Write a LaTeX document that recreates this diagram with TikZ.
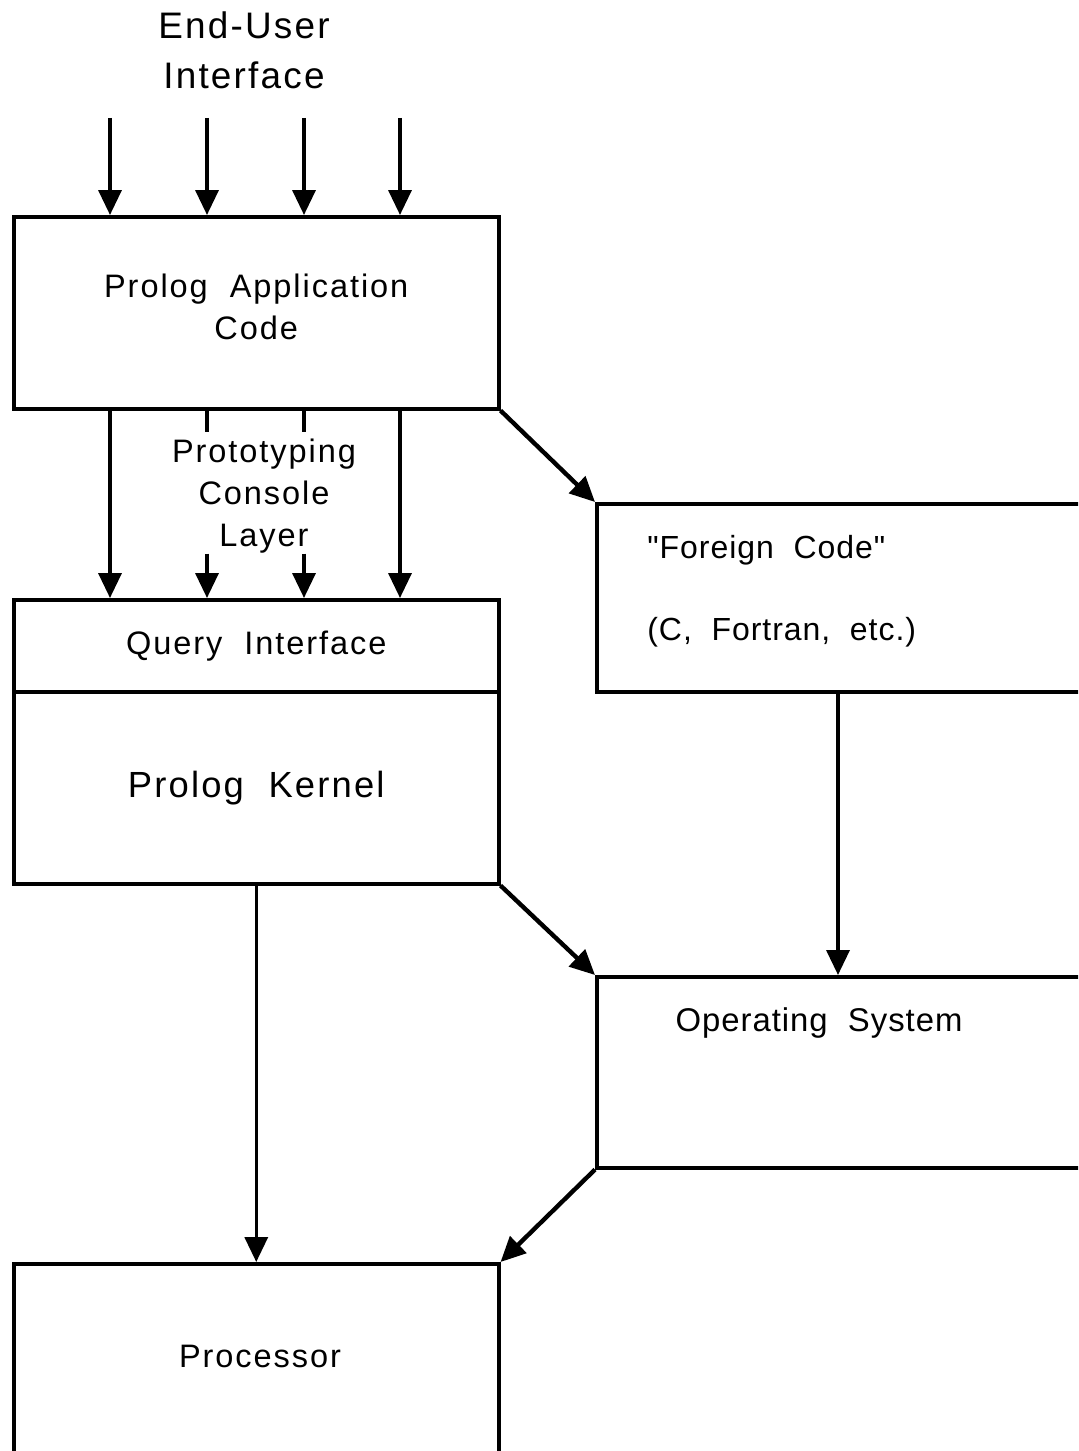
\documentclass[tikz,border=0pt]{standalone}
\usepackage{fontspec}
\usetikzlibrary{arrows.meta}
\newfontfamily\boxfont[LetterSpace=6]{Liberation Sans}
\newfontfamily\tightfont[LetterSpace=3]{Liberation Sans}

\tikzset{
	box/.style={draw, line width=2pt, rectangle, inner sep=0pt, anchor=north west, minimum width=9.7cm},
	arr/.style={line width=2pt, -{Triangle[length=5mm,width=4.6mm]}},
	lbl/.style={font=\boxfont\fontsize{18.5}{23.9}\selectfont, align=center},
	olbl/.style={font=\tightfont\fontsize{18.7}{24}\selectfont}
}

\begin{document}
\begin{tikzpicture}[x=0.2mm, y=-0.2mm]
		\useasboundingbox (0,0) rectangle (1078,1451);
		\clip (0,0) rectangle (1078,1451);

		\node[lbl, font=\boxfont\fontsize{21}{28.5}\selectfont] (eui) at (244,50) {End-User\\Interface};
		\coordinate (in1) at (110,118);
		\coordinate (in2) at (207,118);
		\coordinate (in3) at (304,118);
		\coordinate (in4) at (400,118);

		\node[box, lbl, minimum height=3.84cm] (app) at (12,215) {Prolog~ Application\\Code\\[-6.1mm]};
		\node[box, lbl, minimum height=1.84cm] (qi) at (12,598) {Query~ Interface};
		\node[box, lbl, minimum height=3.84cm, font=\boxfont\fontsize{20.7}{24}\selectfont] (pk) at (12,690) {Prolog~ Kernel};
		\node[box, minimum width=12cm, minimum height=3.76cm] (fc) at (595,502) {};
		\node[box, minimum width=12cm, minimum height=3.82cm] (os) at (595,975) {};
		\node[box, minimum height=6cm] (cpu) at (12,1262) {};

		% texts of the boxes that run off the page
		\node[lbl] (pcl) at (264,496) {Prototyping\\Console\\Layer};
		\node[olbl, anchor=west, align=left, inner sep=0pt, font=\tightfont\fontsize{18.2}{46.5}\selectfont] (fcl) at (647,591) {"Foreign~ Code"\\(C,~ Fortran,~ etc.)};
		\node[olbl] (osl) at (819,1023) {Operating~ System};
		\node[lbl] (cpul) at (260,1356) {Processor};

		\foreach \i in {1,...,4}
			\draw[arr] (in\i) -- (in\i |- app.north);

		\draw[arr] (in1 |- app.south) -- (in1 |- qi.north);
		\draw[arr] (in4 |- app.south) -- (in4 |- qi.north);
		\draw[line width=2pt] (in2 |- app.south) -- ++(0,21);
		\draw[line width=2pt] (in3 |- app.south) -- ++(0,21);
		\draw[arr] ([yshift=-2.86cm]in2 |- app.south) -- (in2 |- qi.north);
		\draw[arr] ([yshift=-2.86cm]in3 |- app.south) -- (in3 |- qi.north);

		\draw[arr, line width=2.5pt] (app.south east) -- (fc.north west);
		\draw[arr] ([xshift=4.86cm]fc.south west) -- ([xshift=4.86cm]os.north west);
		\draw[arr, line width=2.5pt] (pk.south east) -- (os.north west);
		\draw[arr] (pk.south) -- (pk.south |- cpu.north);
		\draw[arr, line width=2.5pt] (os.south west) -- (cpu.north east);

	\end{tikzpicture}
\end{document}
